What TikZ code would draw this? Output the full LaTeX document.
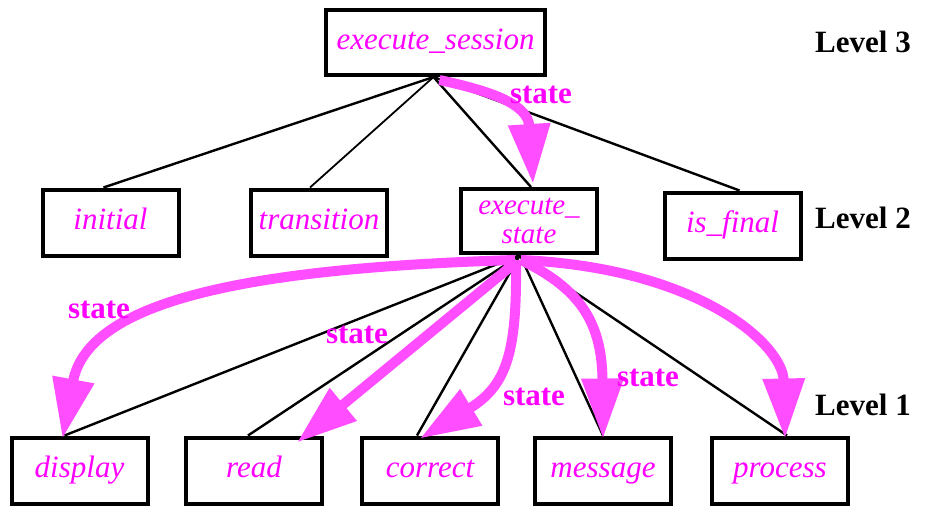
\documentclass[tikz,border=0pt]{standalone}
\usepackage{fontspec}
\setmainfont{Liberation Serif}
\usetikzlibrary{arrows.meta}
\definecolor{arrmag}{RGB}{255,77,255}
\definecolor{txtmag}{RGB}{255,0,255}
\tikzset{
  boxbase/.style={draw=black, line width=4pt, minimum width=136pt, minimum height=66pt, inner sep=0pt, fill=white,
    font=\fontsize{31}{27}\selectfont\itshape, text=txtmag, align=center},
  box/.style={boxbase, text height=21pt, text depth=7pt},
  link/.style={draw=black, line width=2.4pt},
  thin link/.style={draw=black, line width=1.8pt},
  flow/.style={draw=arrmag, line width=10pt, -{Triangle[length=60pt,width=40pt]}},
  flowlabel/.style={font=\fontsize{31}{34}\selectfont\bfseries, text=txtmag, inner sep=0pt},
  level/.style={font=\fontsize{31}{34}\selectfont\bfseries, text=black, inner sep=0pt, anchor=west}
}
\begin{document}
\begin{tikzpicture}[x=1pt,y=-1pt]
\useasboundingbox (0,0) rectangle (925,507);
% nodes
\node[box, minimum width=219pt, minimum height=65pt] (ses) at (435.5,42.5) {execute\_session};
\node[box] (ini) at (110.5,222.5) {initial};
\node[box] (tra) at (319,222.5) {transition};
\node[boxbase, minimum height=64pt, font=\fontsize{29}{28.5}\selectfont\itshape] (est) at (529,221) {execute\_\\state};
\node[box] (fin) at (732.5,225.5) {is\_final};
\node[box] (dis) at (79.5,470.5) {display};
\node[box] (rea) at (254,470.5) {read};
\node[box] (cor) at (430,470.5) {correct};
\node[box] (mes) at (603,470.5) {message};
\node[box] (pro) at (780,470.5) {process};
% level labels
\node[level] (l3) at (815,42) {Level 3};
\node[level] (l2) at (815,218) {Level 2};
\node[level] (l1) at (815,405) {Level 1};
% tree links
\draw[link] ([xshift=-2pt]ses.south) -- ([xshift=-7pt]ini.north);
\draw[thin link] ([xshift=-2pt]ses.south) -- ([xshift=-9pt]tra.north);
\draw[link] ([xshift=-2pt]ses.south) -- ([xshift=2pt]est.north);
\draw[link] ([xshift=-2pt]ses.south) -- ([xshift=7pt]fin.north);
\draw[link] ([xshift=-9pt]est.south) -- ([xshift=-15pt]dis.north);
\draw[link] ([xshift=-9pt]est.south) -- ([xshift=-6pt]rea.north);
\draw[link] ([xshift=-9pt]est.south) -- ([xshift=-13pt]cor.north);
\draw[link] ([xshift=-9pt]est.south) -- (mes.north);
\draw[link] ([xshift=-9pt]est.south) -- ([xshift=7pt]pro.north);
% state flows
\draw[flow] ([xshift=4pt,yshift=-3pt]ses.south) .. controls (495,92) and (528,105) .. ([xshift=4pt,yshift=3pt]est.north);
\draw[flow] ([xshift=-14pt,yshift=-5pt]est.south) .. controls (250,268) and (88,300) .. ([xshift=-17pt,yshift=-3pt]dis.north);
\draw[flow] ([xshift=-14pt,yshift=-8pt]est.south) -- ([xshift=43pt,yshift=-7pt]rea.north);
\draw[flow] ([xshift=-13pt,yshift=-5pt]est.south) .. controls (517,350) and (508,385) .. ([xshift=-10pt,yshift=-3pt]cor.north);
\draw[flow] ([xshift=-8pt,yshift=-5pt]est.south) .. controls (578,288) and (602,320) .. ([yshift=-3pt]mes.north);
\draw[flow] ([xshift=-8pt,yshift=-5pt]est.south) .. controls (700,268) and (783,345) .. ([xshift=5pt,yshift=-3pt]pro.north);
% flow labels
\node[flowlabel] (s1) at (541,95) {state};
\node[flowlabel] (s2) at (99,310) {state};
\node[flowlabel] (s3) at (357,335) {state};
\node[flowlabel] (s4) at (534,397) {state};
\node[flowlabel] (s5) at (648,378) {state};
\end{tikzpicture}
\end{document}
